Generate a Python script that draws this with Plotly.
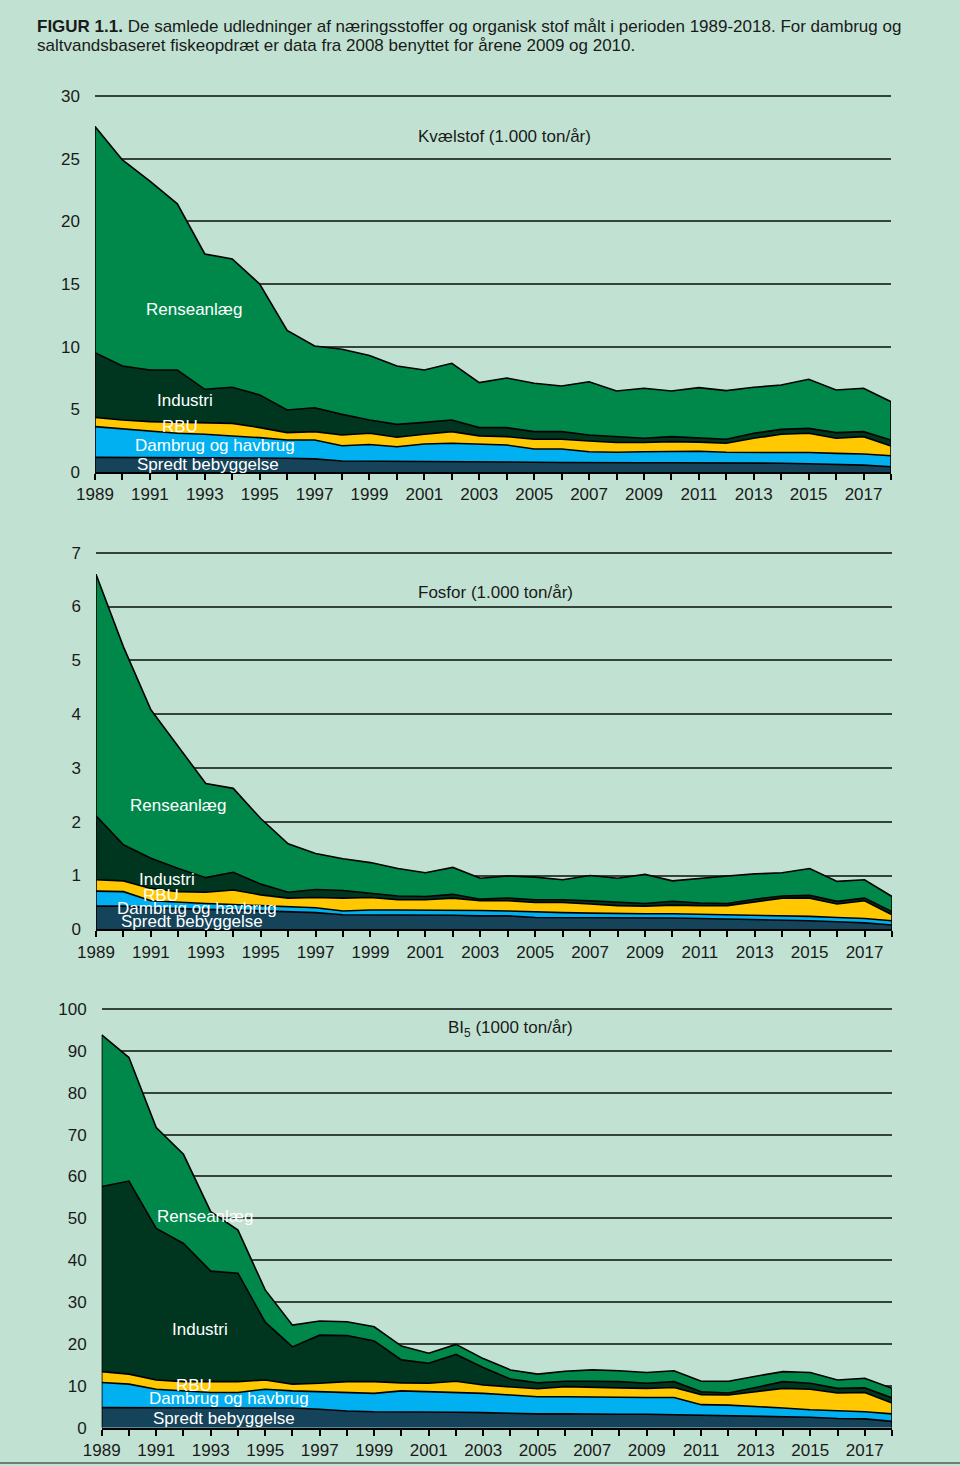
import plotly.graph_objects as go

W, H = 960, 1466

years = list(range(1989, 2019))
tick_years = list(range(1989, 2018, 2))
series_names = ["Spredt bebyggelse", "Dambrug og havbrug", "RBU", "Industri", "Renseanlæg"]
colors = ["#15435a", "#00b0f0", "#ffc800", "#00361f", "#00884a"]

# Kvælstof (1.000 ton/år)
n_spredt = [1.17,1.17,1.17,1.17,1.15,1.15,1.12,1.10,1.05,0.88,0.87,0.86,0.86,0.85,0.85,0.85,0.78,0.76,0.74,0.74,0.74,0.74,0.74,0.74,0.72,0.70,0.66,0.60,0.55,0.42]
n_dambrug = [2.45,2.26,2.05,1.92,1.86,1.73,1.62,1.45,1.50,1.22,1.33,1.16,1.37,1.44,1.35,1.30,1.06,1.08,0.88,0.83,0.88,0.92,0.92,0.83,0.85,0.87,0.89,0.89,0.89,0.88]
n_rbu = [0.74,0.72,0.80,0.87,0.87,1.00,0.80,0.59,0.67,0.85,0.89,0.75,0.78,0.93,0.68,0.67,0.77,0.77,0.85,0.78,0.73,0.76,0.72,0.72,1.12,1.44,1.54,1.20,1.38,0.77]
n_industri = [5.16,4.31,4.12,4.18,2.72,2.88,2.61,1.81,1.91,1.65,1.06,1.03,0.95,0.93,0.66,0.72,0.61,0.61,0.48,0.47,0.34,0.40,0.36,0.32,0.40,0.39,0.39,0.45,0.40,0.48]
n_rense = [18.04,16.44,15.06,13.26,10.80,10.24,8.85,6.35,4.92,5.20,5.15,4.66,4.18,4.52,3.59,3.96,3.86,3.64,4.25,3.64,3.99,3.64,3.99,3.88,3.67,3.54,3.92,3.40,3.46,3.06]

# Fosfor (1.000 ton/år)
p_spredt = [0.43,0.43,0.40,0.38,0.37,0.36,0.34,0.32,0.31,0.27,0.27,0.26,0.26,0.26,0.25,0.25,0.22,0.22,0.21,0.21,0.21,0.21,0.20,0.19,0.19,0.18,0.16,0.14,0.12,0.08]
p_dambrug = [0.28,0.27,0.13,0.12,0.11,0.10,0.10,0.09,0.09,0.07,0.09,0.10,0.10,0.10,0.10,0.09,0.10,0.09,0.09,0.08,0.08,0.08,0.08,0.08,0.08,0.08,0.08,0.08,0.08,0.08]
p_rbu = [0.21,0.20,0.23,0.20,0.21,0.27,0.20,0.17,0.19,0.24,0.23,0.19,0.19,0.22,0.18,0.19,0.18,0.19,0.17,0.15,0.14,0.16,0.16,0.17,0.24,0.32,0.34,0.25,0.33,0.11]
p_industri = [1.19,0.67,0.56,0.43,0.27,0.33,0.20,0.11,0.15,0.14,0.08,0.07,0.06,0.07,0.03,0.05,0.05,0.05,0.06,0.06,0.05,0.07,0.05,0.04,0.05,0.04,0.05,0.05,0.05,0.06]
p_rense = [4.49,3.68,2.76,2.27,1.75,1.56,1.22,0.90,0.67,0.59,0.57,0.51,0.44,0.50,0.39,0.41,0.42,0.37,0.47,0.45,0.54,0.38,0.46,0.51,0.47,0.43,0.50,0.37,0.34,0.28]

# BI5 (1000 ton/år)
b_spredt = [4.8,4.8,4.8,4.8,4.8,4.8,4.8,4.7,4.4,4.0,3.8,3.8,3.8,3.7,3.6,3.4,3.3,3.3,3.2,3.2,3.2,3.1,3.0,2.9,2.8,2.7,2.5,2.2,2.1,1.5]
b_dambrug = [6.0,5.6,4.4,4.0,3.6,3.6,4.4,4.1,4.2,4.4,4.4,5.0,4.8,4.7,4.6,4.4,4.1,4.1,4.1,4.0,4.0,4.1,2.5,2.5,2.3,2.0,1.8,1.8,1.7,1.8]
b_rbu = [2.6,2.4,2.2,2.2,2.6,2.6,2.2,1.6,2.0,2.6,2.8,1.9,2.0,2.7,2.0,2.0,1.9,2.4,2.3,2.3,2.2,2.4,2.4,2.4,3.5,4.7,4.9,4.3,4.6,2.6]
b_industri = [44.2,46.1,36.2,33.0,26.4,25.9,13.8,8.9,11.5,11.0,9.7,5.5,4.8,6.4,4.2,1.8,1.4,1.3,1.5,1.5,1.2,1.4,0.7,0.5,1.0,1.6,1.4,1.1,1.1,1.2]
b_rense = [36.2,29.5,24.1,21.3,14.2,10.3,7.7,5.2,3.4,3.3,3.4,3.3,2.4,2.4,2.1,2.2,2.1,2.4,2.7,2.6,2.6,2.6,2.5,2.8,2.7,2.4,2.6,2.0,2.3,2.3]

panels = [
    dict(data=[n_spredt, n_dambrug, n_rbu, n_industri, n_rense], ymax=30, dtick=5,
         px=(95, 891), py=(96, 472), title="Kvælstof (1.000 ton/år)", title_pos=(505, 136),
         labels=[(208, 465), (215, 445), (180, 427), (185, 400), (194, 309)]),
    dict(data=[p_spredt, p_dambrug, p_rbu, p_industri, p_rense], ymax=7, dtick=1,
         px=(96, 892), py=(552.7, 929.3), title="Fosfor (1.000 ton/år)", title_pos=(495, 592),
         labels=[(192, 921), (197, 908), (161, 895), (167, 879), (178, 805)]),
    dict(data=[b_spredt, b_dambrug, b_rbu, b_industri, b_rense], ymax=100, dtick=10,
         px=(101.7, 892), py=(1009, 1427.7), title="BI<sub>5</sub> (1000 ton/år)", title_pos=(510, 1029),
         labels=[(224, 1418), (229, 1398), (194, 1385), (200, 1329), (205, 1216)]),
]

FONT = "Liberation Sans, Arial, sans-serif"
BG = "#c1e2d2"
TXT = "#1a1a1a"
PAD = 2  # px of headroom so the top gridline is drawn

fig = go.Figure()
annotations = []

for i, p in enumerate(panels, start=1):
    xa = "x" if i == 1 else f"x{i}"
    ya = "y" if i == 1 else f"y{i}"
    for name, vals, col in zip(series_names, p["data"], colors):
        fig.add_trace(go.Scatter(
            x=years, y=vals, name=name, mode="lines", stackgroup=f"s{i}",
            fillcolor=col, line=dict(color="#000000", width=1.6),
            xaxis=xa, yaxis=ya, showlegend=False,
        ))
    totals = [sum(v) for v in zip(*p["data"])]
    for idx in (0, -1):
        fig.add_trace(go.Scatter(
            x=[years[idx], years[idx]], y=[0, totals[idx]], mode="lines",
            line=dict(color="#000000", width=1.6), xaxis=xa, yaxis=ya,
            showlegend=False, hoverinfo="skip",
        ))

    x0, x1 = p["px"]
    y0, y1 = p["py"]
    plot_h = y1 - y0
    ytop = p["ymax"] * (1 + PAD / plot_h)
    xkey = "xaxis" if i == 1 else f"xaxis{i}"
    ykey = "yaxis" if i == 1 else f"yaxis{i}"
    fig.update_layout(**{
        xkey: dict(
            domain=[x0 / W, x1 / W], range=[years[0], years[-1]], anchor=ya,
            tickvals=tick_years, ticktext=[str(t) for t in tick_years],
            ticks="outside", ticklen=6, tickwidth=1.5, tickcolor="#000",
            minor=dict(ticks="outside", dtick=1, tick0=years[0], ticklen=6, tickwidth=1.5, tickcolor="#000"),
            showline=True, linecolor="#000", linewidth=2, showgrid=False, zeroline=False,
            tickfont=dict(family=FONT, size=17, color=TXT), fixedrange=True,
            automargin=False, ticklabelstandoff=0,
        ),
        ykey: dict(
            domain=[1 - y1 / H, 1 - (y0 - PAD) / H], range=[0, ytop], anchor=xa,
            tickvals=list(range(0, p["ymax"] + 1, p["dtick"])),
            showgrid=True, gridcolor="#34443a", gridwidth=2,
            zeroline=False, showline=False, ticks="", ticklabelstandoff=14,
            tickfont=dict(family=FONT, size=17, color=TXT), fixedrange=True,
            automargin=False,
        ),
    })

    tx, ty = p["title_pos"]
    annotations.append(dict(x=tx / W, y=1 - ty / H, xref="paper", yref="paper",
                            text=p["title"], showarrow=False, xanchor="center", yanchor="middle",
                            font=dict(family=FONT, size=17, color=TXT)))
    for name, (lx, ly) in zip(series_names, p["labels"]):
        annotations.append(dict(x=lx / W, y=1 - ly / H, xref="paper", yref="paper",
                                text=name, showarrow=False, xanchor="center", yanchor="middle",
                                font=dict(family=FONT, size=17, color="#ffffff")))

title_lines = [
    ("<b>FIGUR 1.1.</b> De samlede udledninger af næringsstoffer og organisk stof målt i perioden 1989-2018. For dambrug og", 26),
    ("saltvandsbaseret fiskeopdræt er data fra 2008 benyttet for årene 2009 og 2010.", 45),
]
for txt, ypx in title_lines:
    annotations.append(dict(
        x=35 / W, y=1 - ypx / H, xref="paper", yref="paper", xanchor="left", yanchor="middle",
        align="left", showarrow=False, text=txt,
        font=dict(family=FONT, size=17, color=TXT),
    ))

fig.update_layout(
    template="none",
    width=W, height=H, margin=dict(l=0, r=0, t=0, b=0, autoexpand=False),
    paper_bgcolor=BG, plot_bgcolor=BG, annotations=annotations,
    shapes=[dict(type="line", xref="paper", yref="paper", x0=0, x1=1,
                 y0=1 - 1463 / H, y1=1 - 1463 / H, line=dict(color="#6f7f76", width=2))],
    hovermode=False,
)

fig.write_html("out.html", config={"displayModeBar": False},
               post_script="document.body.style.margin='0px';document.body.style.overflow='hidden';")
